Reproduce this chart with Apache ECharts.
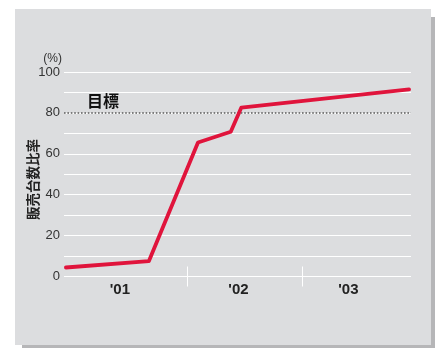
<!DOCTYPE html>
<html>
<head>
<meta charset="utf-8">
<style>
html,body{margin:0;padding:0;background:#fff;}
#chart{width:435px;height:348px;}
</style>
<script src="https://cdn.jsdelivr.net/npm/echarts@6/dist/echarts.min.js"></script>
</head>
<body>
<div id="chart"></div>
<script>
// time position (months from start of '01) and share (%)
const monthPos = [0.2, 8.8, 13.9, 17.3, 18.4, 35.8];
const shareValues = [4.4, 7.5, 65.5, 70.8, 82.6, 91.5];
const yearLabels = ["'01", "'02", "'03"];
const yearLabelPos = [5.8, 18.1, 29.5];
const yearBoundaries = [12.75, 24.7];
const targetValue = 80;
const targetLabel = '目標';
const yTitle = '販売台数比率';
const yUnit = '(%)';

const chart = echarts.init(document.getElementById('chart'), null, {renderer: 'canvas'});
const boldNarrow = '"Liberation Sans Narrow","Arial Narrow","Liberation Sans",sans-serif';

const baseX = {
  type: 'value', min: 0, max: 36,
  axisLine: {show: false},
  splitLine: {show: false}
};

chart.setOption({
  backgroundColor: '#ffffff',
  animation: false,
  graphic: [
    {type: 'rect', shape: {x: 22, y: 17, width: 413, height: 331}, style: {fill: '#b6b6b8'}, z: -10},
    {type: 'rect', shape: {x: 15, y: 9, width: 416, height: 336}, style: {fill: '#dcdddf'}, z: -9},
    {type: 'text', x: 32.5, y: 179.5, rotation: Math.PI / 2,
      style: {text: yTitle, fontSize: 13.5, fontWeight: 'bold', fill: '#222',
        fontFamily: '"Noto Sans CJK JP",sans-serif', align: 'center', verticalAlign: 'middle'}}
  ],
  grid: {left: 64, right: 24, top: 72, bottom: 71.5, containLabel: false},
  xAxis: [
    Object.assign({}, baseX, {
      axisTick: {show: true, customValues: yearBoundaries, inside: false, length: 10,
        lineStyle: {color: '#ffffff', width: 1}},
      axisLabel: {show: true, customValues: yearLabelPos, margin: 6,
        fontFamily: boldNarrow, fontWeight: 'bold', fontSize: 15, color: '#222',
        formatter: function (v) {
          const i = yearLabelPos.findIndex(p => Math.abs(p - v) < 1e-6);
          return i >= 0 ? yearLabels[i] : '';
        }}
    }),
    Object.assign({}, baseX, {
      position: 'bottom',
      axisTick: {show: true, customValues: yearBoundaries, inside: true, length: 10,
        lineStyle: {color: '#ffffff', width: 1}},
      axisLabel: {show: false}
    })
  ],
  yAxis: {
    type: 'value', min: 0, max: 100, interval: 10,
    name: yUnit, nameLocation: 'end', nameGap: 7,
    nameTextStyle: {align: 'right', color: '#333', fontSize: 12, padding: [0, 2, 0, 0],
      fontFamily: '"Liberation Sans",Arial,sans-serif'},
    axisLine: {show: false}, axisTick: {show: false},
    axisLabel: {margin: 4, color: '#333', fontSize: 13,
      fontFamily: '"Liberation Sans",Arial,sans-serif',
      formatter: v => (v % 20 === 0 ? String(v) : '')},
    splitLine: {show: true, lineStyle: {color: '#ffffff', width: 1.2}}
  },
  series: [{
    type: 'line',
    data: monthPos.map((x, i) => [x, shareValues[i]]),
    symbol: 'none',
    lineStyle: {color: '#e0143c', width: 3.8, cap: 'round', join: 'round'},
    markLine: {
      silent: true, symbol: 'none',
      lineStyle: {color: '#5a5a5a', type: [1.6, 1.8], width: 1.6},
      label: {show: true, position: 'insideStartTop', formatter: targetLabel,
        padding: [0, 0, 0, 19], distance: 4, fontSize: 16, fontWeight: 'bold', color: '#111',
        fontFamily: '"Noto Sans CJK JP",sans-serif'},
      data: [{yAxis: targetValue}]
    },
    z: 5
  }]
});
</script>
</body>
</html>
